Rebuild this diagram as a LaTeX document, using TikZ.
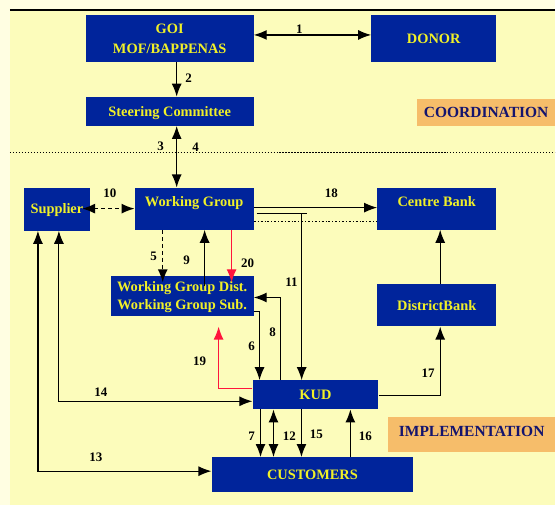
\documentclass[tikz,border=0pt]{standalone}
\usepackage{fontspec}
\setmainfont{Liberation Serif}
\usetikzlibrary{arrows.meta}

\definecolor{paleback}{RGB}{255,254,226}
\definecolor{panelyellow}{RGB}{252,252,187}
\definecolor{boxblue}{RGB}{0,36,155}
\definecolor{boxtext}{RGB}{240,240,40}
\definecolor{tagorange}{RGB}{246,189,106}
\definecolor{tagnavy}{RGB}{20,20,110}
\definecolor{linkred}{RGB}{255,20,60}

\tikzset{
  >={Latex[length=13pt,width=10pt]},
  orgbox/.style={fill=boxblue, text=boxtext, inner sep=0pt, align=center,
    font=\fontsize{14.4}{20}\selectfont\bfseries, text height=9.5pt, text depth=0pt},
  twoline/.style={text height=#1},
  toptext/.style={text height=10pt, text depth=14.4pt},
  tagbox/.style={fill=tagorange, text=tagnavy, inner sep=0pt,
    font=\fontsize{15.5}{18}\selectfont\bfseries, text height=10.3pt, text depth=0pt},
  numlbl/.style={inner sep=0pt, font=\fontsize{13}{15}\selectfont\bfseries},
  link/.style={draw=black, line width=1.2pt},
  redlink/.style={draw=linkred, line width=1.2pt},
  dashlink/.style={link, dash pattern=on 4pt off 3pt, line width=1.4pt},
}

\begin{document}
\begin{tikzpicture}[x=1pt, y=-1pt]
  % Background panel
  \fill[paleback] (0,0) rectangle (556,506);
  \fill[panelyellow] (10,11) rectangle (556,506);
  \draw[line width=2pt] (10,10) -- (556,10);
  \useasboundingbox (0,0) rectangle (556,506);

  % Divider between the two levels
  \draw[line width=1.5pt, dash pattern=on 1.3pt off 1.7pt] (10,153) -- (556,153);

  % Coordination level
  \node[orgbox, twoline=29.5pt, minimum width=168pt, minimum height=47pt] (goi) at (170,38.5) {GOI\\MOF/BAPPENAS};
  \node[orgbox, minimum width=125pt, minimum height=47pt] (donor) at (434.5,38.5) {DONOR};
  \node[orgbox, minimum width=168pt, minimum height=29pt] (steer) at (170,111.5) {Steering Committee};
  \node[tagbox, minimum width=138pt, minimum height=27pt] (coord) at (487,112.5) {COORDINATION};

  % Implementation level
  \node[orgbox, minimum width=66pt, minimum height=43pt] (supplier) at (57,209.5) {Supplier};
  \node[orgbox, toptext, minimum width=119pt, minimum height=42pt] (wg) at (194.5,209) {Working Group};
  \node[orgbox, toptext, minimum width=119pt, minimum height=42pt] (centre) at (437.5,209) {Centre Bank};
  \node[orgbox, twoline=27.5pt, minimum width=143pt, minimum height=41pt] (wgd) at (182.5,296.5) {Working Group Dist.\\[-2pt]Working Group Sub.};
  \node[orgbox, minimum width=119pt, minimum height=42pt] (db) at (437.5,306) {DistrictBank};
  \node[orgbox, minimum width=126pt, minimum height=29pt] (kud) at (316,395.5) {KUD};
  \node[orgbox, minimum width=202pt, minimum height=35pt] (cust) at (313,475.5) {CUSTOMERS};
  \node[tagbox, text depth=7pt, minimum width=167pt, minimum height=35pt] (impl) at (472.5,435.5) {IMPLEMENTATION};

  % Flows at the top
  \draw[link, <->] ([yshift=3.5pt]goi.east) -- ([yshift=3.5pt]donor.west);
  \draw[link, ->] ([xshift=7pt]goi.south) -- ([xshift=7pt]steer.north);
  \draw[link, <->] ([xshift=7pt]steer.south) -- ([xshift=-17.5pt]wg.north);

  % Flows around the working group
  \draw[dashlink, <->] ([xshift=-8pt,yshift=0.5pt]supplier.east) -- (wg.west);
  \draw[dashlink, ->] ([xshift=-31.5pt]wg.south) -- ([xshift=-19.5pt,yshift=-7pt]wgd.north);
  \draw[link, ->] ([xshift=22.5pt,yshift=-11pt]wgd.north) -- ([xshift=10.5pt]wg.south);
  \draw[redlink, ->] ([xshift=37.5pt]wg.south) -- ([xshift=49.5pt,yshift=-7pt]wgd.north);
  \draw[link, ->] ([yshift=1pt]wg.east) -- ([yshift=1pt]centre.west);
  \draw[line width=1pt, dash pattern=on 2pt off 2pt on 0.8pt off 2pt] ([yshift=-13pt]wg.east) -- ([yshift=-13pt]centre.west);
  \coordinate (split) at ([xshift=48pt,yshift=-5pt]wg.east);
  \draw[link] ([xshift=3pt,yshift=-5pt]wg.east) -- ([xshift=53pt,yshift=-5pt]wg.east);
  \draw[link, ->] (split) -- (split |- kud.north);

  % Flows around KUD
  \draw[link, ->] ([xshift=-35pt]kud.north) |- ([yshift=-1.5pt]wgd.east);
  \draw[link, ->] ([yshift=-15.5pt]wgd.east) -| ([xshift=-56pt]kud.north);
  \draw[redlink, ->] ([yshift=6.5pt]kud.west) -| ([xshift=36.5pt,yshift=-10pt]wgd.south);
  \draw[link, <->] ([yshift=-6.5pt]kud.west) -| ([xshift=2pt]supplier.south);
  \draw[link, <->] ([yshift=3.5pt]cust.west) -| ([xshift=-19pt]supplier.south);
  \draw[link, ->] ([yshift=-0.5pt]kud.east) -| ([xshift=3.5pt]db.south);
  \draw[link, ->] ([xshift=3.5pt]db.north) -- ([xshift=3.5pt]centre.south);
  \draw[link, ->] ([xshift=-55pt]kud.south) -- ([xshift=-52pt]cust.north);
  \draw[link, <->] ([xshift=-42pt]kud.south) -- ([xshift=-39pt]cust.north);
  \draw[link, ->] ([xshift=-14pt]kud.south) -- ([xshift=-11pt]cust.north);
  \draw[link, ->] ([xshift=38pt]cust.north) -- ([xshift=35pt]kud.south);

  % Flow numbers
  \foreach \n/\x/\y in {1/300/29, 2/189/78, 3/161/147, 4/196/147, 5/154/257,
      6/252/347, 7/252/437, 8/273/333, 9/187/261, 10/110/194, 11/292/283,
      12/290/437, 13/96/458, 14/101/393, 15/317/435, 16/366/437, 17/429/374,
      18/332/194, 19/200/362, 20/248/264}
    \node[numlbl] (n\n) at (\x,\y) {\n};
\end{tikzpicture}
\end{document}
